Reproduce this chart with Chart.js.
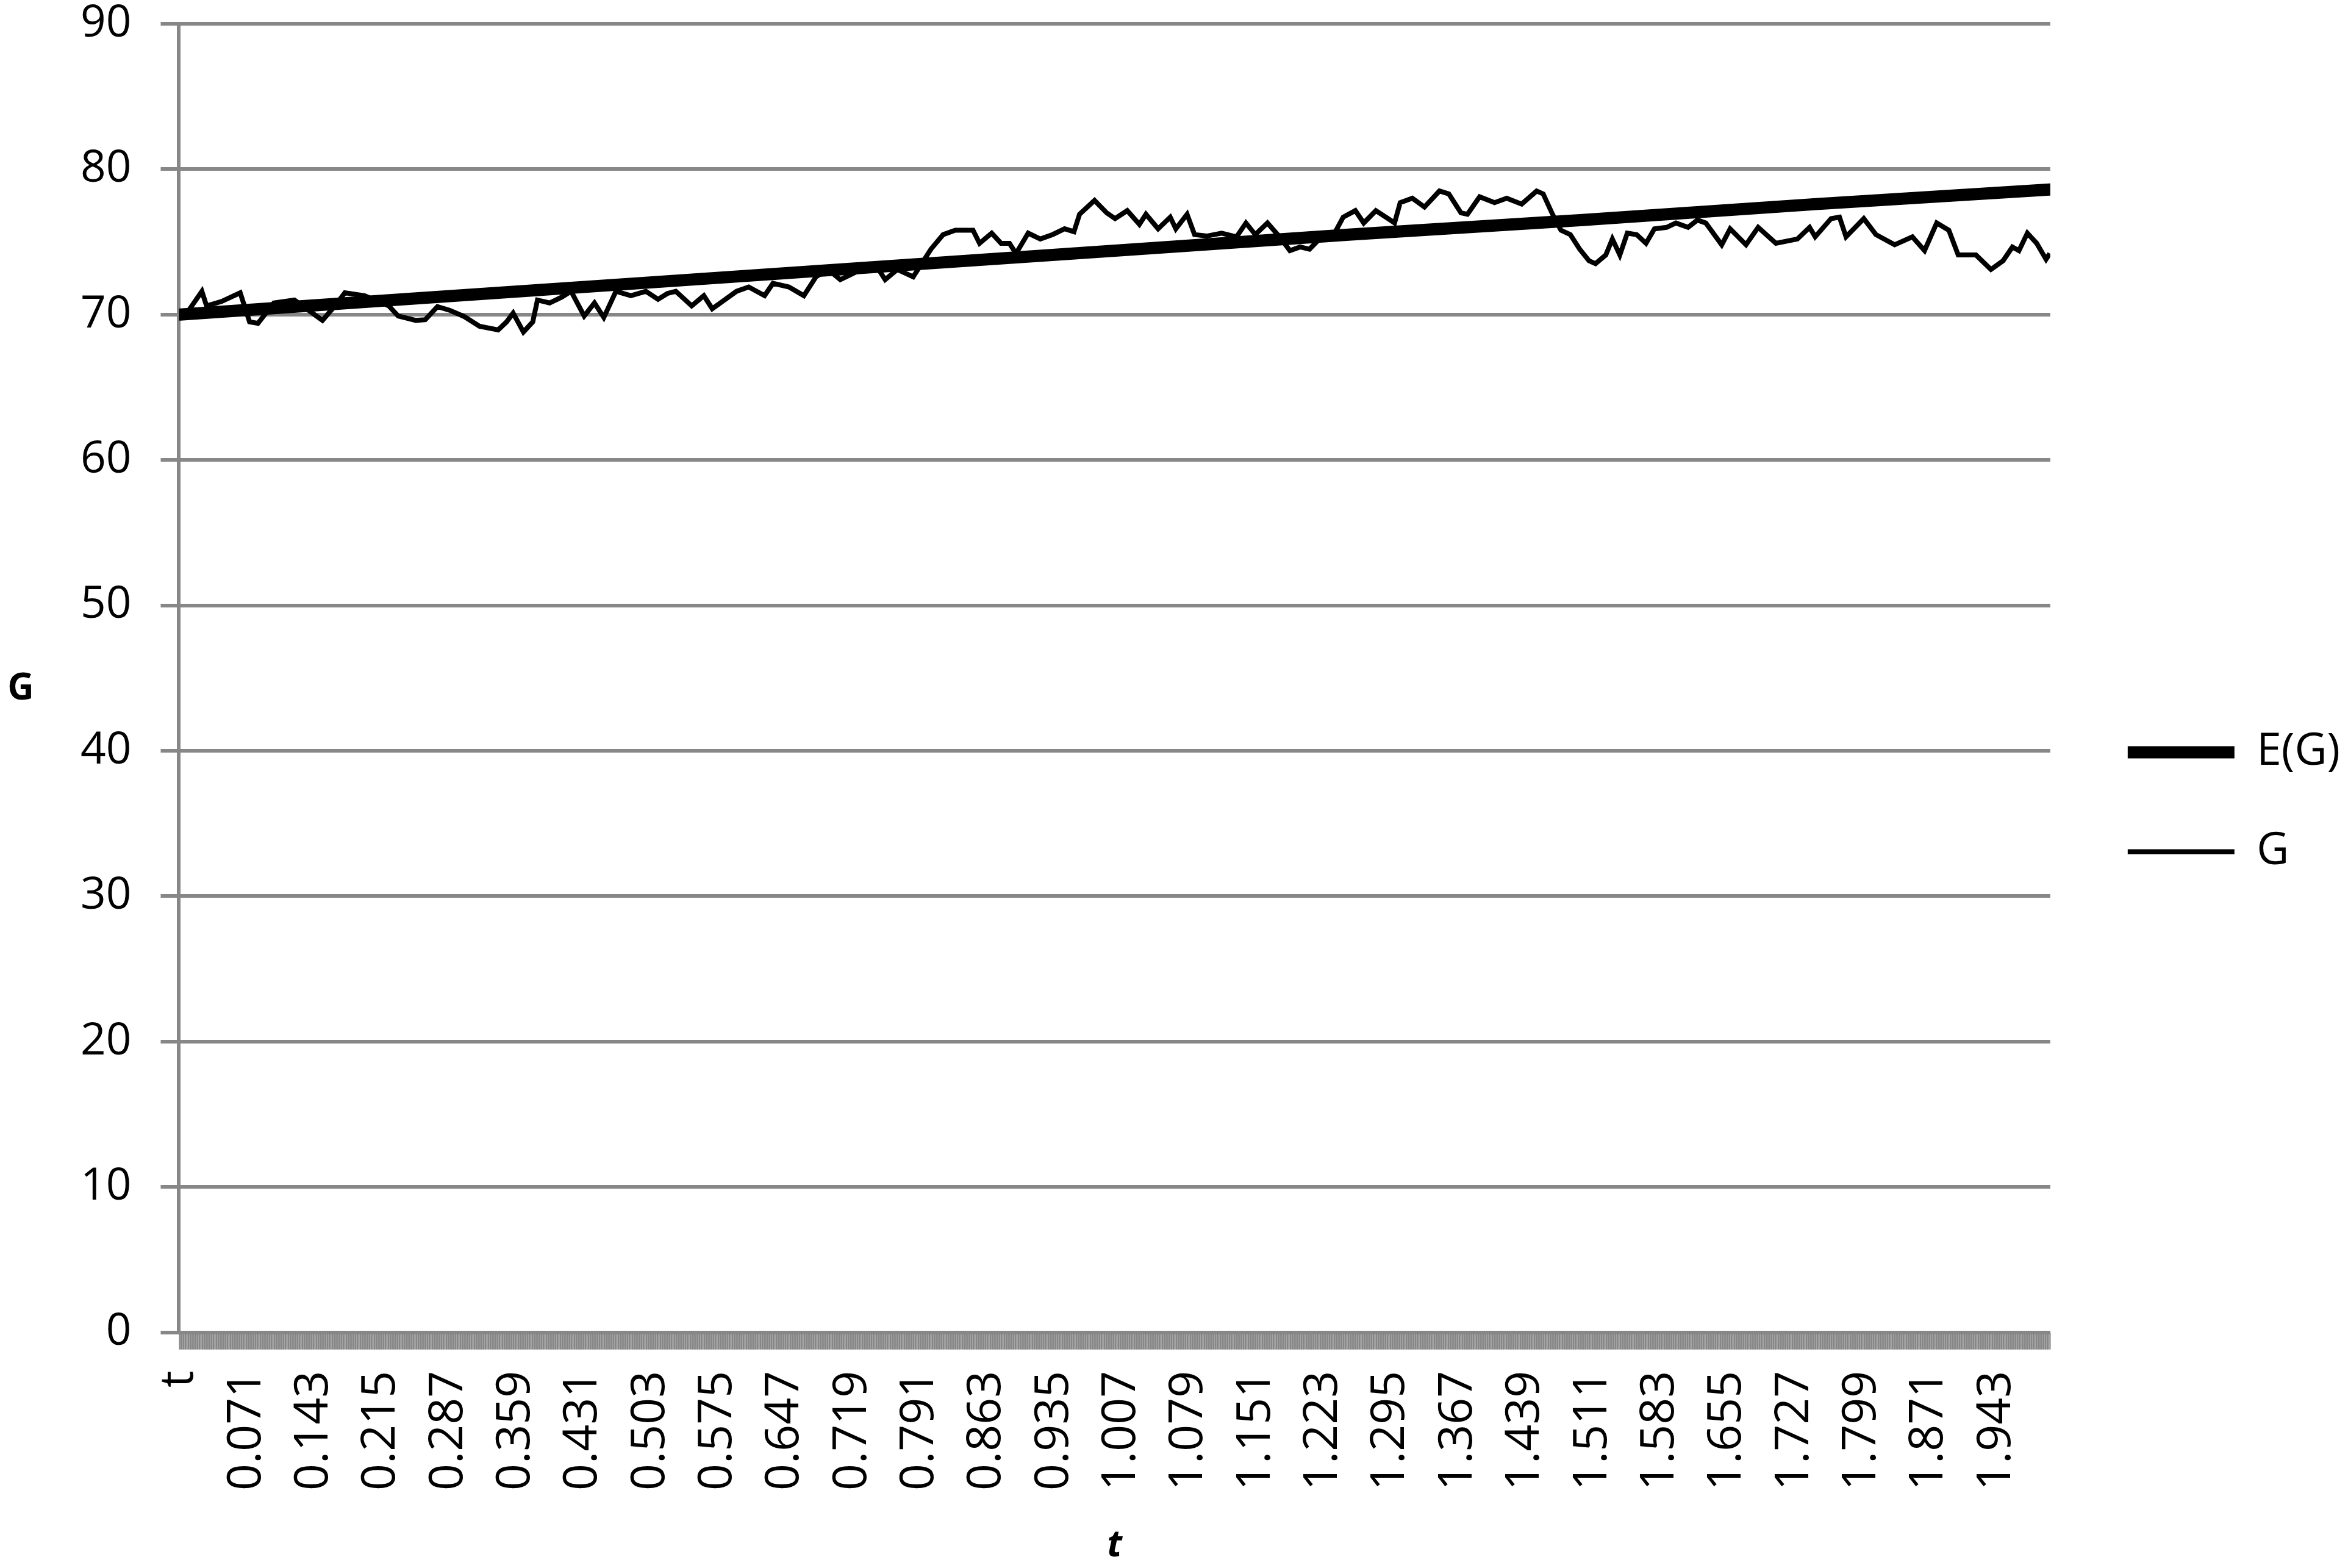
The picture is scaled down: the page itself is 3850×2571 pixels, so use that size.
<!DOCTYPE html>
<html>
<head>
<meta charset="utf-8">
<script src="https://cdn.jsdelivr.net/npm/chart.js@4.4.1/dist/chart.umd.min.js"></script>
<style>
html,body{margin:0;padding:0;background:#ffffff;}
canvas{display:block;}
</style>
</head>
<body>
<canvas id="c" width="3850" height="2571" style="width:3850px;height:2571px"></canvas>
<script>
// ---- data ----
const tickLabels = ['t','0.071','0.143','0.215','0.287','0.359','0.431','0.503','0.575','0.647','0.719',
  '0.791','0.863','0.935','1.007','1.079','1.151','1.223','1.295','1.367','1.439','1.511','1.583',
  '1.655','1.727','1.799','1.871','1.943'];
const categoryCount = 2002;      // header row "t" + t = 0.000 ... 2.000
const categoryStep = 0.001;
const labelEvery = 72;

const eT   = [0, 0.25, 0.5, 0.75, 1.0, 1.25, 1.5, 1.75, 2.0];
const eVal = [70.0, 71.1, 72.2, 73.3, 74.4, 75.5, 76.5, 77.6, 78.6];

const gT = [
  0.000,0.009,0.023,0.028,0.044,0.064,0.074,0.083,0.100,0.122,
  0.152,0.164,0.176,0.197,0.223,0.233,0.252,0.262,0.275,0.288,
  0.304,0.320,0.340,0.349,0.356,0.367,0.377,0.382,0.395,0.408,
  0.418,0.432,0.443,0.453,0.466,0.482,0.498,0.511,0.521,0.530,
  0.547,0.560,0.569,0.582,0.595,0.608,0.625,0.634,0.651,0.667,
  0.680,0.693,0.706,0.725,0.745,0.754,0.767,0.784,0.793,0.803,
  0.816,0.829,0.848,0.855,0.868,0.878,0.887,0.894,0.907,0.920,
  0.933,0.946,0.956,0.962,0.978,0.991,1.000,1.013,1.026,1.033,
  1.046,1.059,1.065,1.077,1.085,1.098,1.114,1.130,1.140,1.150,
  1.163,1.176,1.187,1.198,1.208,1.221,1.234,1.244,1.257,1.266,
  1.279,1.292,1.299,1.305,1.318,1.331,1.347,1.357,1.370,1.377,
  1.390,1.406,1.419,1.435,1.451,1.458,1.468,1.477,1.487,1.497,
  1.507,1.514,1.525,1.532,1.540,1.548,1.558,1.568,1.577,1.590,
  1.600,1.613,1.623,1.632,1.649,1.658,1.675,1.688,1.707,1.730,
  1.743,1.749,1.766,1.775,1.782,1.801,1.814,1.834,1.853,1.866,
  1.879,1.892,1.902,1.921,1.937,1.950,1.960,1.967,1.976,1.986,
  1.996,2.000];
const gVal = [
  70.0,70.3,71.6,70.6,70.9,71.5,69.5,69.4,70.8,71.0,
  69.6,70.5,71.5,71.3,70.6,69.9,69.6,69.65,70.55,70.3,
  69.85,69.2,68.95,69.5,70.1,68.8,69.5,71.0,70.8,71.2,
  71.6,69.9,70.8,69.8,71.6,71.3,71.6,71.05,71.45,71.6,
  70.6,71.3,70.4,71.0,71.6,71.9,71.3,72.15,71.9,71.3,
  72.6,73.1,72.4,73.0,73.3,72.4,73.1,72.6,73.5,74.5,
  75.5,75.8,75.8,74.9,75.6,74.9,74.9,74.2,75.6,75.2,
  75.5,75.9,75.7,76.9,77.85,77.0,76.6,77.15,76.2,76.9,
  75.9,76.7,75.9,76.9,75.5,75.4,75.6,75.35,76.3,75.5,
  76.3,75.35,74.4,74.65,74.5,75.35,75.5,76.7,77.15,76.3,
  77.15,76.6,76.3,77.7,78.0,77.4,78.5,78.3,77.0,76.9,
  78.1,77.7,78.0,77.6,78.5,78.3,76.9,75.8,75.5,74.5,
  73.7,73.5,74.1,75.2,74.1,75.6,75.5,74.9,75.9,76.0,
  76.3,76.0,76.5,76.3,74.8,75.9,74.8,76.0,74.9,75.2,
  76.0,75.35,76.6,76.7,75.35,76.6,75.5,74.8,75.35,74.4,
  76.3,75.8,74.1,74.1,73.1,73.7,74.65,74.4,75.6,74.9,
  73.8,74.2];

// category positions (header "t" sits one step before t = 0)
const categoryPos = Array.from({length: categoryCount}, (_, k) => (k - 1) * categoryStep);

const GRID = '#878787';
const FONT = '"Open Sans", "DejaVu Sans", sans-serif';
Chart.defaults.font.family = FONT;
Chart.defaults.color = '#000000';

const uprightYTitle = {
  id: 'uprightYTitle',
  afterDraw(chart) {
    const {ctx, chartArea} = chart;
    ctx.save();
    ctx.font = 'bold 60px ' + FONT;
    ctx.fillStyle = '#000';
    ctx.textAlign = 'center';
    ctx.textBaseline = 'middle';
    ctx.fillText('G', 34, (chartArea.top + chartArea.bottom) / 2 + 18);
    ctx.restore();
  }
};
const legendPlacement = {
  id: 'legendPlacement',
  afterLayout(chart) {
    const lg = chart.legend;
    if (!lg) return;
    const dx = 37, dy = 10;
    lg.left += dx; lg.right += dx;
    lg.top += dy; lg.bottom += dy;
  }
};

new Chart(document.getElementById('c'), {
  type: 'line',
  data: {
    datasets: [
      {
        label: 'E(G)',
        data: eT.map((t, i) => ({x: t, y: eVal[i]})),
        borderColor: '#000', backgroundColor: '#000',
        borderWidth: 20, borderCapStyle: 'round', borderJoinStyle: 'round',
        pointRadius: 0, tension: 0, pointStyle: 'line'
      },
      {
        label: 'G',
        data: gT.map((t, i) => ({x: t, y: gVal[i]})),
        borderColor: '#000', backgroundColor: '#000',
        borderWidth: 8, borderJoinStyle: 'miter',
        pointRadius: 0, tension: 0, pointStyle: 'line'
      }
    ]
  },
  options: {
    responsive: false,
    animation: false,
    devicePixelRatio: 1,
    layout: {padding: {left: 84, right: 40, top: 39, bottom: 0}},
    plugins: {
      legend: {
        position: 'right',
        align: 'center',
        labels: {
          usePointStyle: true,
          pointStyleWidth: 175,
          boxHeight: 73,
          padding: 90,
          color: '#000',
          font: {size: 73, family: FONT}
        }
      },
      tooltip: {enabled: false},
      title: {display: false}
    },
    scales: {
      x: {
        type: 'linear',
        min: -0.0015,
        max: 2.0005,
        afterBuildTicks: (scale) => { scale.ticks = categoryPos.map(v => ({value: v})); },
        ticks: {
          autoSkip: false,
          minRotation: 90,
          maxRotation: 90,
          padding: 35,
          color: '#000',
          font: {size: 77, family: FONT},
          callback: (value, index) => (index % labelEvery === 0 ? tickLabels[index / labelEvery] : '')
        },
        grid: {
          drawOnChartArea: false,
          drawTicks: true,
          tickLength: 28,
          tickWidth: 2,
          tickColor: GRID
        },
        border: {display: false},
        title: {
          display: true,
          text: 't',
          color: '#000',
          font: {size: 60, weight: 'bold', style: 'italic', family: FONT},
          padding: {top: 20, bottom: 0}
        }
      },
      y: {
        min: 0,
        max: 90,
        afterFit: (scale) => { scale.paddingTop = 0; },
        ticks: {
          stepSize: 10,
          padding: 48,
          color: '#000',
          font: {size: 73, family: FONT}
        },
        grid: {
          color: GRID,
          lineWidth: 6,
          drawTicks: true,
          tickLength: 30,
          tickColor: GRID,
          tickWidth: 6
        },
        border: {display: true, color: GRID, width: 6}
      }
    }
  },
  plugins: [uprightYTitle, legendPlacement]
});
</script>
</body>
</html>
